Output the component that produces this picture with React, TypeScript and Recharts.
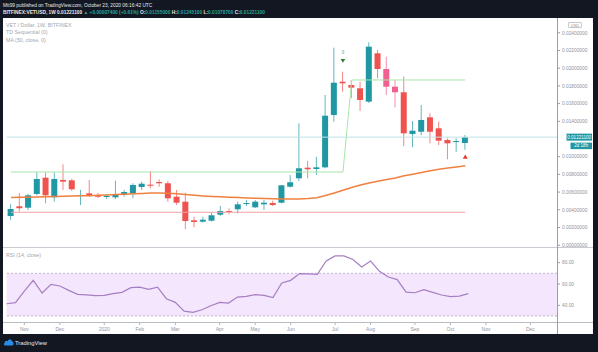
import React from 'react';
import {
  ComposedChart, Bar, Line, XAxis, YAxis, ReferenceLine, ReferenceDot, ReferenceArea,
} from 'recharts';

// BITFINEX:VETUSD weekly, week of 2019-10-21 .. week of 2020-10-19
const open = [
  0.0033, 0.0044, 0.00424, 0.00579, 0.00763, 0.00541, 0.00737, 0.00733, 0.00559, 0.00586,
  0.00559, 0.00548, 0.00541, 0.00579, 0.00586, 0.00658, 0.00684, 0.00714, 0.007, 0.00548,
  0.00492, 0.00281, 0.00266, 0.00277, 0.00345, 0.00386, 0.00406, 0.00469, 0.00428, 0.00462,
  0.00477, 0.0048, 0.00661, 0.00756, 0.00876, 0.00861, 0.0088, 0.01471, 0.01847, 0.0181,
  0.01773, 0.01622, 0.02168, 0.01991, 0.01791, 0.01728, 0.01257, 0.01282, 0.01445, 0.01321,
  0.01189, 0.01166, 0.01155,
];
const high = [
  0.00466, 0.0059, 0.0058, 0.00824, 0.00824, 0.00824, 0.00914, 0.00748, 0.00624, 0.00737,
  0.0059, 0.00575, 0.00729, 0.00624, 0.007, 0.00718, 0.00838, 0.00745, 0.00725, 0.00624,
  0.00593, 0.00322, 0.00322, 0.00364, 0.00443, 0.00417, 0.00492, 0.00511, 0.00511, 0.00511,
  0.00503, 0.0068, 0.00793, 0.01377, 0.00951, 0.01, 0.01697, 0.02232, 0.0196, 0.01867,
  0.01847, 0.02293, 0.02206, 0.0213, 0.01867, 0.01904, 0.01403, 0.01584, 0.0149, 0.01395,
  0.01208, 0.01208, 0.012451,
];
const low = [
  0.00285, 0.0038, 0.00398, 0.00564, 0.00473, 0.00492, 0.00624, 0.00612, 0.00454, 0.00548,
  0.00533, 0.00522, 0.00522, 0.00548, 0.0053, 0.00624, 0.00643, 0.00661, 0.00492, 0.00454,
  0.0018, 0.00202, 0.00254, 0.00268, 0.0033, 0.00349, 0.0036, 0.00443, 0.0042, 0.00398,
  0.00443, 0.00473, 0.00652, 0.00725, 0.00756, 0.00793, 0.00869, 0.01395, 0.01734, 0.0166,
  0.01516, 0.01607, 0.01886, 0.01697, 0.01556, 0.01121, 0.01106, 0.01245, 0.01151, 0.01132,
  0.00971, 0.01056, 0.010787,
];
const close = [
  0.00409, 0.00418, 0.00564, 0.00748, 0.00564, 0.00748, 0.00718, 0.00632, 0.00567, 0.00559,
  0.00548, 0.00556, 0.00575, 0.00601, 0.0068, 0.00695, 0.00672, 0.007, 0.0053, 0.0048,
  0.00273, 0.00262, 0.00288, 0.00338, 0.00386, 0.00375, 0.00462, 0.00477, 0.00492, 0.0048,
  0.00454, 0.00677, 0.00711, 0.00869, 0.00858, 0.0088, 0.01463, 0.01836, 0.01829, 0.0178,
  0.01641, 0.02243, 0.01991, 0.01791, 0.01728, 0.01264, 0.01294, 0.01415, 0.01282, 0.01181,
  0.01151, 0.01177, 0.012211,
];
const ma50 = [
  0.00539, 0.00541, 0.00542, 0.00545, 0.00547, 0.00549, 0.00553, 0.00556, 0.00558, 0.0056,
  0.00564, 0.00567, 0.00572, 0.00576, 0.00581, 0.00585, 0.00589, 0.0059, 0.00586, 0.0058,
  0.00572, 0.00564, 0.00557, 0.00551, 0.00547, 0.00542, 0.00538, 0.00534, 0.00531, 0.00528,
  0.00525, 0.00523, 0.00522, 0.00522, 0.00527, 0.00536, 0.00562, 0.0059, 0.0062, 0.00651,
  0.0068, 0.00703, 0.00723, 0.00742, 0.00759, 0.00784, 0.00802, 0.00822, 0.00841, 0.00857,
  0.00872, 0.00884, 0.00897,
];
const rsi14 = [
  41.5, 42.5, 53.4, 63.4, 51.5, 59.7, 58.1, 54, 50.3, 49.7,
  49, 49.3, 50.9, 52.2, 56.5, 57.1, 55, 57.1, 46.2, 42.8,
  34.6, 33.4, 35.9, 39.6, 42.8, 42.1, 47.7, 48.4, 50, 49.3,
  47.2, 60.9, 63.4, 69.7, 69.4, 69, 81.5, 86.3, 86.3, 82.9,
  75.9, 81.5, 71.9, 66.5, 64.1, 52.4, 51.8, 54.7, 52.2, 49.7,
  48.1, 48.7, 50.9,
];

const pinkBars = [43, 44];
const priceTicks = [0, 0.002, 0.004, 0.006, 0.008, 0.01, 0.014, 0.016, 0.018, 0.02, 0.022, 0.024];
const rsiTicks = [40, 60, 80];
const monthLabels = ['2020', 'Feb', 'Mar', 'Apr', 'May', 'Jun', 'Jul', 'Aug', 'Sep', 'Oct', 'Nov', 'Dec'];

const lastPrice = 0.012211;
const supportLevel = 0.00372;
const tdSupport = 0.00827;
const tdResistance = 0.01867;
const tdSellAt = 0.02085;
const tdBuyAt = 0.01;

// 63 weekly slots on the time axis (chart runs into the future)
const FIRST_WEEK = Date.UTC(2019, 9, 21);
const weeks = Array.from({ length: 63 }, (_, i) =>
  new Date(FIRST_WEEK + i * 7 * 86400000).toISOString().slice(0, 10));

const rows = weeks.map((week, i) => ({
  week,
  open: open[i] ?? null,
  high: high[i] ?? null,
  low: low[i] ?? null,
  close: close[i] ?? null,
  ma: ma50[i] ?? null,
  rsi: rsi14[i] ?? null,
  pink: pinkBars.includes(i),
}));

const TEAL = '#1f98a4';
const RED = '#ef5350';
const PINK = '#f2608f';
const DARK = '#131722';
const AXIS_TEXT = '#8f939c';
const FONT = '"Liberation Sans", Arial, sans-serif';

const Candle = (props: any) => {
  const { x, y, width, height, payload } = props;
  if (!payload || payload.open == null) return <g />;
  const { open: o, close: c, high: h, low: l } = payload;
  const top = Math.min(y, y + height);
  const span = Math.abs(height);
  const k = h - l > 0 ? span / (h - l) : 0;
  const yOf = (v: number) => top + (h - v) * k;
  const color = payload.pink ? PINK : c >= o ? TEAL : RED;
  const bTop = yOf(Math.max(o, c));
  const bH = Math.max(1, yOf(Math.min(o, c)) - bTop);
  const cx = x + width / 2;
  return (
    <g>
      <line x1={cx} x2={cx} y1={top} y2={top + span} stroke={color} strokeOpacity={0.7} strokeWidth={1} />
      <rect x={x} y={bTop} width={width} height={bH} fill={color} />
    </g>
  );
};

const PriceTag = (props: any) => {
  const vb = props.viewBox || {};
  const x = (vb.x ?? 0) + (vb.width ?? 0);
  const y = vb.y ?? 0;
  return (
    <g>
      <rect x={x + 9.5} y={y - 3.5} width={25.5} height={7} fill={TEAL} />
      <text x={x + 22.2} y={y} dy="0.35em" textAnchor="middle" fontSize={4.6} fill="#fff">
        {lastPrice.toFixed(8)}
      </text>
      <rect x={x + 13.5} y={y + 5.5} width={21.5} height={6.5} fill={TEAL} />
      <text x={x + 24.2} y={y + 8.75} dy="0.35em" textAnchor="middle" fontSize={4.6} fill="#fff">
        2d 18h
      </text>
    </g>
  );
};

const SellMark = (props: any) => {
  const { cx, cy } = props;
  return (
    <g>
      <text x={cx} y={cy - 7} textAnchor="middle" fontSize={4.5} fill="#6fae73">9</text>
      <path d={`M${cx - 2.3},${cy - 1.8} L${cx + 2.3},${cy - 1.8} L${cx},${cy + 2} Z`} fill="#2e7d32" />
    </g>
  );
};

const BuyMark = (props: any) => {
  const { cx, cy } = props;
  return <path d={`M${cx - 2.5},${cy + 2} L${cx + 2.5},${cy + 2} L${cx},${cy - 2.2} Z`} fill="#e53935" />;
};

const MonthTick = (props: any) => {
  const { x, y, payload } = props;
  const week: string = payload?.value ?? '';
  if (Number(week.slice(8)) > 7) return <g />;
  const label = monthLabels[Number(week.slice(5, 7)) - 1];
  return (
    <g>
      <line x1={x} x2={x} y1={y - 5} y2={y - 2} stroke="#9a9ea6" strokeWidth={0.8} />
      <text x={x} y={y} dy="0.71em" textAnchor="middle" fontSize={5} fill={AXIS_TEXT}>{label}</text>
    </g>
  );
};

const abs = (l: number, t: number, w: number, h: number, extra: any = {}) => ({
  position: 'absolute' as const, left: l, top: t, width: w, height: h, ...extra,
});

export default function App() {
  return (
    <div style={{ position: 'absolute', left: 0, top: 0, width: 598, height: 352, background: DARK, overflow: 'hidden', fontFamily: FONT }}>
      {/* header */}
      <div style={abs(3, 2, 590, 7, { color: '#e8e8ea', fontSize: 4.8, lineHeight: '7px', whiteSpace: 'nowrap' })}>
        Mtt99 published on TradingView.com, October 23, 2020 06:16:42 UTC
      </div>
      <div style={abs(3, 9, 590, 7, { color: '#e8e8ea', fontSize: 4.8, lineHeight: '7px', whiteSpace: 'nowrap', fontWeight: 600 })}>
        BITFINEX:VETUSD, 1W 0.01221100 <span style={{ color: '#26a69a' }}>▲ +0.00007400 (+0.61%)</span>{' '}
        O:<span style={{ color: '#26a69a' }}>0.01155000</span> H:<span style={{ color: '#26a69a' }}>0.01245100</span>{' '}
        L:<span style={{ color: '#26a69a' }}>0.01078700</span> C:<span style={{ color: '#26a69a' }}>0.01221100</span>
      </div>

      {/* white chart panel */}
      <div style={abs(3, 18, 590, 316, { background: '#ffffff' })} />

      <div style={abs(3, 18, 590, 229)}>
        <ComposedChart width={590} height={229} data={rows} margin={{ top: 0, right: 0, bottom: 0, left: 3.6 }}>
          <XAxis dataKey="week" hide />
          <YAxis
            orientation="right" width={36} type="number" domain={[-0.000203, 0.025672]} allowDataOverflow
            ticks={priceTicks} interval={0} tickFormatter={(v: number) => v.toFixed(8)}
            tick={{ fontSize: 4.8, fill: AXIS_TEXT }} tickSize={3} tickMargin={2}
            axisLine={false} tickLine={{ stroke: '#9a9ea6' }}
          />
          <ReferenceLine y={lastPrice} stroke="#bfe2e7" strokeWidth={1} label={(p: any) => <PriceTag {...p} />} />
          <ReferenceLine segment={[{ x: weeks[0], y: supportLevel }, { x: weeks[52], y: supportLevel }]} stroke="#f3a3a3" strokeWidth={1} />
          <ReferenceLine segment={[{ x: weeks[0], y: tdSupport }, { x: weeks[38], y: tdSupport }]} stroke="#a8e6ab" strokeWidth={1} />
          <ReferenceLine segment={[{ x: weeks[38], y: tdSupport }, { x: weeks[39], y: tdResistance }]} stroke="#a8e6ab" strokeWidth={1} />
          <ReferenceLine segment={[{ x: weeks[39], y: tdResistance }, { x: weeks[52], y: tdResistance }]} stroke="#a8e6ab" strokeWidth={1} />
          <Line dataKey="ma" stroke="#f08040" strokeWidth={1.5} dot={false} isAnimationActive={false} />
          <Bar
            dataKey={(d: any) => (d.open == null ? null : [d.low, d.high])}
            barSize={6} shape={(p: any) => <Candle {...p} />} isAnimationActive={false}
          />
          <ReferenceDot x={weeks[38]} y={tdSellAt} shape={(p: any) => <SellMark {...p} />} />
          <ReferenceDot x={weeks[52]} y={tdBuyAt} shape={(p: any) => <BuyMark {...p} />} />
        </ComposedChart>
      </div>

      <div style={abs(3, 247, 590, 87)}>
        <ComposedChart width={590} height={87} data={rows} margin={{ top: 0, right: 0, bottom: 0, left: 3.6 }}>
          <XAxis dataKey="week" interval={0} height={12} tickSize={3} tickMargin={2} tickLine={false} axisLine={false}
            tick={(p: any) => <MonthTick {...p} />} />
          <YAxis
            orientation="right" width={36} type="number" domain={[24.38, 94.64]} allowDataOverflow
            ticks={rsiTicks} interval={0} tickFormatter={(v: number) => v.toFixed(2)}
            tick={{ fontSize: 4.8, fill: AXIS_TEXT }} tickSize={3} tickMargin={2}
            axisLine={false} tickLine={{ stroke: '#9a9ea6' }}
          />
          <ReferenceArea y1={30} y2={70} fill="#f4e6fc" fillOpacity={1} stroke="none" />
          <ReferenceLine y={70} stroke="#c2b6cc" strokeDasharray="2 2" />
          <ReferenceLine y={30} stroke="#c2b6cc" strokeDasharray="2 2" />
          <Line dataKey="rsi" stroke="#a67fc2" strokeWidth={1.2} dot={false} isAnimationActive={false} />
        </ComposedChart>
      </div>

      {/* pane borders */}
      <div style={abs(3, 246.5, 590, 1.5, { background: '#c9ccd3' })} />
      <div style={abs(3, 321.5, 590, 1, { background: '#b8bbc2' })} />
      <div style={abs(557, 18, 1, 316, { background: '#9a9ea6' })} />

      {/* legends */}
      <div style={abs(6, 22, 200, 24, { color: '#a3a6af', fontSize: 5.3, lineHeight: '7.4px', whiteSpace: 'nowrap' })}>
        <div>VET / Dollar, 1W, BITFINEX</div>
        <div>TD Sequential (0)</div>
        <div>MA (50, close, 0)</div>
      </div>
      <div style={abs(6, 251.5, 120, 7, { color: '#a3a6af', fontSize: 5.3, lineHeight: '7px', whiteSpace: 'nowrap' })}>
        RSI (14, close)
      </div>
      <div style={abs(568, 21.5, 14, 6, { border: '0.5px solid #c5c8cf', borderRadius: 1, color: '#8f939c', fontSize: 4, lineHeight: '5px', textAlign: 'center', boxSizing: 'border-box' })}>
        USD
      </div>

      {/* footer */}
      <svg style={abs(3, 337, 12, 10)} width={12} height={10} viewBox="0 0 12 10">
        <path d="M2.5,8.5 C0.8,8.5 0.3,6.4 1.8,5.7 C1.7,3.8 3.7,3.2 4.6,4.3 C5.3,2 8.6,2 9.1,4.5 C11,4.6 11.2,8.5 9.2,8.5 Z" fill="#2a8be6" />
      </svg>
      <div style={abs(15, 338.5, 60, 8, { color: '#e8e8ea', fontSize: 5.8, lineHeight: '8px', whiteSpace: 'nowrap' })}>
        TradingView
      </div>
    </div>
  );
}
